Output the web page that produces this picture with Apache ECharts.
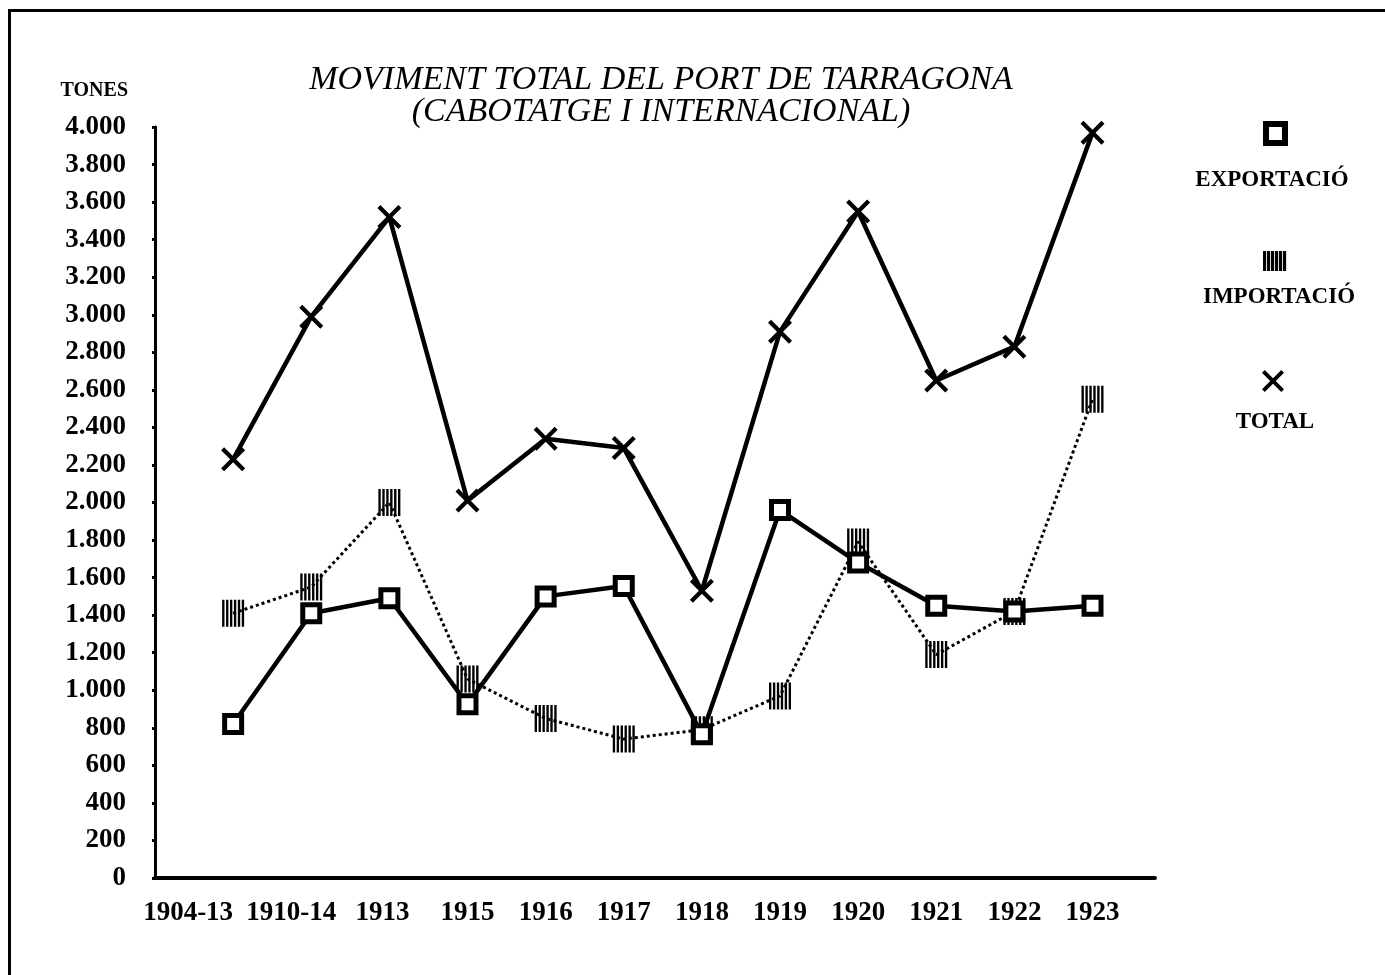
<!DOCTYPE html>
<html>
<head>
<meta charset="utf-8">
<script src="https://cdn.jsdelivr.net/npm/echarts@6/dist/echarts.min.js"></script>
<style>
    html, body {
        margin: 0;
        padding: 0;
        background: #fff;
        overflow: hidden;
    }
    .frame {
        position: absolute;
        left: 8px;
        top: 9px;
        width: 1500px;
        height: 1100px;
        border-left: 3px solid #000;
        border-top: 3px solid #000;
    }
    #main {
        position: absolute;
        left: 0;
        top: 0;
        width: 1385px;
        height: 975px;
    }
</style>
</head>
<body>
<div class="frame"></div>
<div id="main"></div>
<script>
    // dades llegides del grafic (tones)
    var categories = ['1904-13', '1910-14', '1913', '1915', '1916', '1917', '1918', '1919', '1920', '1921', '1922', '1923'];
    var exportacio = [820, 1410, 1490, 925, 1500, 1555, 765, 1960, 1680, 1450, 1420, 1450];
    var importacio = [1410, 1550, 2000, 1060, 850, 740, 790, 970, 1790, 1190, 1420, 2550];
    var total = [2230, 2990, 3520, 2010, 2340, 2290, 1530, 2910, 3550, 2650, 2830, 3970];
    var seriesNames = ['EXPORTACIÓ', 'IMPORTACIÓ', 'TOTAL'];

    var serif = '"Liberation Serif", "DejaVu Serif", serif';
    var crossPath = 'path://M1.5,0 L6,4.5 L10.5,0 L12,1.5 L7.5,6 L12,10.5 L10.5,12 L6,7.5 L1.5,12 L0,10.5 L4.5,6 L0,1.5 Z';
    var stripePath = 'path://M0,0h2.4v28h-2.4z M4,0h2.4v28h-2.4z M8,0h2.4v28h-2.4z M12,0h2.4v28h-2.4z M16,0h2.4v28h-2.4z M20,0h2.4v28h-2.4z';
    var crossPts = [[1.5, 0], [6, 4.5], [10.5, 0], [12, 1.5], [7.5, 6], [12, 10.5], [10.5, 12], [6, 7.5], [1.5, 12], [0, 10.5], [4.5, 6], [0, 1.5]];

    function pairs(arr) {
        return arr.map(function (v, i) { return [i, v]; });
    }

    function tones(v) {
        if (v >= 1000) {
            return Math.floor(v / 1000) + '.' + String(v % 1000).padStart(3, '0');
        }
        return String(v);
    }

    // icones de la llegenda
    function stripeIcon(x, y, w, h) {
        var kids = [];
        for (var i = 0; i < 6; i++) {
            kids.push({ type: 'rect', shape: { x: x + i * w / 5.5, y: y, width: w / 7, height: h }, style: { fill: '#000' } });
        }
        return { type: 'group', children: kids };
    }
    function crossIcon(x, y, s) {
        return {
            type: 'polygon',
            shape: { points: crossPts.map(function (p) { return [x + p[0] * s / 12, y + p[1] * s / 12]; }) },
            style: { fill: '#000' }
        };
    }

    var myChart = echarts.init(document.getElementById('main'), null, { renderer: 'canvas' });
    var option = {
        backgroundColor: 'transparent',
        animation: false,
        title: {
            text: 'MOVIMENT TOTAL DEL PORT DE TARRAGONA\n(CABOTATGE I INTERNACIONAL)',
            left: 656,
            top: 59,
            textAlign: 'center',
            textStyle: {
                fontFamily: serif,
                fontStyle: 'italic',
                fontWeight: 'normal',
                fontSize: 34,
                lineHeight: 32,
                color: '#000'
            }
        },
        grid: {
            left: 155,
            right: 230,
            top: 127,
            bottom: 97
        },
        xAxis: {
            type: 'value',
            min: -1,
            max: 11.8,
            interval: 1,
            splitLine: { show: false },
            axisTick: { show: false },
            axisLine: {
                show: true,
                lineStyle: { color: '#000', width: 4, type: [1.5, 1.5] }
            },
            axisLabel: {
                margin: 22,
                fontFamily: serif,
                fontWeight: 'bold',
                fontSize: 27,
                color: '#000',
                formatter: function (v) {
                    var c = categories[v];
                    if (c === undefined) return '';
                    return '{s' + v + '|' + c + '}';
                },
                rich: {
                    s0: { padding: [0, 90, 0, 0] },
                    s1: { padding: [0, 40, 0, 0] },
                    s2: { padding: [0, 14, 0, 0] }
                }
            }
        },
        yAxis: {
            type: 'value',
            min: 0,
            max: 4000,
            interval: 200,
            name: 'TONES',
            nameLocation: 'end',
            nameGap: 26,
            nameTextStyle: {
                fontFamily: serif,
                fontWeight: 'bold',
                fontSize: 20,
                color: '#000',
                align: 'right',
                padding: [0, 27, 0, 0]
            },
            splitLine: { show: false },
            axisLine: {
                show: true,
                onZero: false,
                lineStyle: { color: '#000', width: 3 }
            },
            axisTick: {
                show: true,
                length: 5,
                lineStyle: { color: '#000', width: 3, type: 'dotted' }
            },
            axisLabel: {
                margin: 29,
                fontFamily: serif,
                fontWeight: 'bold',
                fontSize: 27,
                color: '#000',
                formatter: tones
            }
        },
        series: [
            {
                name: seriesNames[2],
                type: 'line',
                data: pairs(total),
                symbol: crossPath,
                symbolSize: 24,
                lineStyle: { color: '#000', width: 4.5 },
                itemStyle: { color: '#000' },
                z: 3
            },
            {
                name: seriesNames[1],
                type: 'line',
                data: pairs(importacio),
                symbol: stripePath,
                symbolSize: [22, 27],
                symbolKeepAspect: false,
                lineStyle: { color: '#000', width: 3, type: 'dotted' },
                itemStyle: { color: '#000' },
                z: 4
            },
            {
                name: seriesNames[0],
                type: 'line',
                data: pairs(exportacio),
                symbol: 'rect',
                symbolSize: 17,
                lineStyle: { color: '#000', width: 4.5 },
                itemStyle: { color: '#fff', borderColor: '#000', borderWidth: 5 },
                z: 5
            }
        ],
        // llegenda a la dreta: icona a sobre del text
        graphic: [
            {
                type: 'rect',
                shape: { x: 1266, y: 124, width: 19, height: 19 },
                style: { fill: '#fff', stroke: '#000', lineWidth: 6 }
            },
            {
                type: 'text',
                x: 1272, y: 180,
                style: { text: seriesNames[0], font: 'bold 23px ' + serif, fill: '#000', align: 'center', verticalAlign: 'middle' }
            },
            stripeIcon(1263, 251, 22, 20),
            {
                type: 'text',
                x: 1279, y: 297,
                style: { text: seriesNames[1], font: 'bold 23px ' + serif, fill: '#000', align: 'center', verticalAlign: 'middle' }
            },
            crossIcon(1262, 370, 22),
            {
                type: 'text',
                x: 1275, y: 422,
                style: { text: seriesNames[2], font: 'bold 23px ' + serif, fill: '#000', align: 'center', verticalAlign: 'middle' }
            }
        ]
    };
    myChart.setOption(option);
</script>
</body>
</html>
